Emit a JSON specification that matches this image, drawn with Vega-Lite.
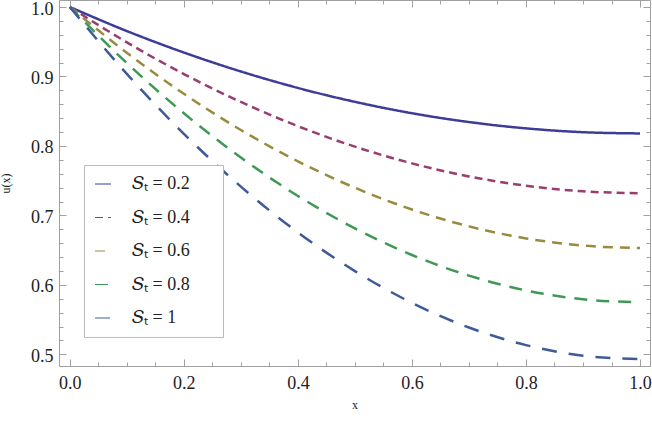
{
  "$schema": "https://vega.github.io/schema/vega-lite/v6.json",
  "width": 591,
  "height": 366,
  "autosize": "none",
  "padding": {"left": 59, "top": 0, "right": 2, "bottom": 56},
  "background": "white",
  "data": {"values": [
    {"x": 0, "u": 1, "s": "0.2"}, {"x": 0.1, "u": 0.9654, "s": "0.2"}, {"x": 0.2, "u": 0.9345, "s": "0.2"}, {"x": 0.3, "u": 0.9072, "s": "0.2"}, {"x": 0.4, "u": 0.8835, "s": "0.2"}, {"x": 0.5, "u": 0.8635, "s": "0.2"}, {"x": 0.6, "u": 0.8471, "s": "0.2"}, {"x": 0.7, "u": 0.8344, "s": "0.2"}, {"x": 0.8, "u": 0.8253, "s": "0.2"}, {"x": 0.9, "u": 0.8198, "s": "0.2"}, {"x": 1, "u": 0.818, "s": "0.2"},
    {"x": 0, "u": 1, "s": "0.4"}, {"x": 0.1, "u": 0.9491, "s": "0.4"}, {"x": 0.2, "u": 0.9035, "s": "0.4"}, {"x": 0.3, "u": 0.8633, "s": "0.4"}, {"x": 0.4, "u": 0.8285, "s": "0.4"}, {"x": 0.5, "u": 0.799, "s": "0.4"}, {"x": 0.6, "u": 0.7749, "s": "0.4"}, {"x": 0.7, "u": 0.7561, "s": "0.4"}, {"x": 0.8, "u": 0.7427, "s": "0.4"}, {"x": 0.9, "u": 0.7347, "s": "0.4"}, {"x": 1, "u": 0.732, "s": "0.4"},
    {"x": 0, "u": 1, "s": "0.6"}, {"x": 0.1, "u": 0.9341, "s": "0.6"}, {"x": 0.2, "u": 0.8751, "s": "0.6"}, {"x": 0.3, "u": 0.823, "s": "0.6"}, {"x": 0.4, "u": 0.7779, "s": "0.6"}, {"x": 0.5, "u": 0.7398, "s": "0.6"}, {"x": 0.6, "u": 0.7085, "s": "0.6"}, {"x": 0.7, "u": 0.6842, "s": "0.6"}, {"x": 0.8, "u": 0.6669, "s": "0.6"}, {"x": 0.9, "u": 0.6565, "s": "0.6"}, {"x": 1, "u": 0.653, "s": "0.6"},
    {"x": 0, "u": 1, "s": "0.8"}, {"x": 0.1, "u": 0.9193, "s": "0.8"}, {"x": 0.2, "u": 0.847, "s": "0.8"}, {"x": 0.3, "u": 0.7833, "s": "0.8"}, {"x": 0.4, "u": 0.728, "s": "0.8"}, {"x": 0.5, "u": 0.6813, "s": "0.8"}, {"x": 0.6, "u": 0.643, "s": "0.8"}, {"x": 0.7, "u": 0.6133, "s": "0.8"}, {"x": 0.8, "u": 0.592, "s": "0.8"}, {"x": 0.9, "u": 0.5793, "s": "0.8"}, {"x": 1, "u": 0.575, "s": "0.8"},
    {"x": 0, "u": 1, "s": "1"}, {"x": 0.1, "u": 0.9037, "s": "1"}, {"x": 0.2, "u": 0.8175, "s": "1"}, {"x": 0.3, "u": 0.7414, "s": "1"}, {"x": 0.4, "u": 0.6755, "s": "1"}, {"x": 0.5, "u": 0.6198, "s": "1"}, {"x": 0.6, "u": 0.5741, "s": "1"}, {"x": 0.7, "u": 0.5386, "s": "1"}, {"x": 0.8, "u": 0.5133, "s": "1"}, {"x": 0.9, "u": 0.4981, "s": "1"}, {"x": 1, "u": 0.493, "s": "1"}
  ]},
  "config": {
    "view": {"stroke": "#a0a0a0", "strokeWidth": 1},
    "axis": {
      "domain": false, "grid": false,
      "labelFont": "Liberation Serif", "labelFontSize": 18, "labelColor": "#222",
      "titleFont": "Liberation Serif", "titleFontSize": 12, "titleFontWeight": "normal", "titleColor": "#222",
      "tickColor": "#a0a0a0", "tickWidth": 1
    }
  },
  "layer": [
    {
      "mark": {"type": "line", "strokeWidth": 2.5, "interpolate": "monotone"},
      "encoding": {
        "x": {"field": "x", "type": "quantitative",
          "scale": {"domain": [-0.019, 1.0175], "nice": false, "zero": false},
          "axis": {"orient": "bottom", "values": [0, 0.2, 0.4, 0.6, 0.8, 1], "format": ".1f", "tickSize": -7, "labelPadding": 15, "title": "x", "titlePadding": 7}},
        "y": {"field": "u", "type": "quantitative",
          "scale": {"domain": [0.4832, 1.0101], "nice": false, "zero": false},
          "axis": {"orient": "left", "values": [0.5, 0.6, 0.7, 0.8, 0.9, 1], "format": ".1f", "tickSize": -7, "labelPadding": 13, "labelOffset": 2, "title": "u(x)", "titlePadding": 18}},
        "color": {"field": "s", "type": "nominal",
          "scale": {"domain": ["0.2", "0.4", "0.6", "0.8", "1"], "range": ["#3D3D99", "#993D71", "#998B3D", "#3D9954", "#3D5A99"]},
          "legend": {
            "orient": "none", "legendX": 25, "legendY": 165, "title": null,
            "padding": 10, "strokeColor": "#bbbbbb", "fillColor": "white",
            "symbolType": "stroke", "symbolSize": 256, "symbolStrokeWidth": 1,
            "labelOffset": 20, "labelFont": "Liberation Serif", "labelFontSize": 18, "labelColor": "#222",
            "rowPadding": 15.5,
            "labelExpr": "'\ud835\udc46\u209c = ' + datum.label + '\u00a0\u00a0\u00a0\u00a0\u00a0\u200b'",
            "encode": {"symbols": {"update": {"stroke": {"value": "#cccccc"}, "strokeDash": {"value": [2, 2]}}}}
          }},
        "strokeDash": {"field": "s", "type": "nominal",
          "scale": {"domain": ["0.2", "0.4", "0.6", "0.8", "1"], "range": [[1, 0], [8, 5], [10, 7], [13, 9], [15, 12]]},
          "legend": null}
      }
    },
    {
      "mark": {"type": "point", "opacity": 0},
      "encoding": {
        "x": {"field": "x", "type": "quantitative",
          "scale": {"domain": [-0.019, 1.0175], "nice": false, "zero": false},
          "axis": {"orient": "bottom", "values": [0.05, 0.1, 0.15, 0.25, 0.3, 0.35, 0.45, 0.5, 0.55, 0.65, 0.7, 0.75, 0.85, 0.9, 0.95], "labels": false, "tickSize": -4, "title": null}},
        "y": {"field": "u", "type": "quantitative",
          "scale": {"domain": [0.4832, 1.0101], "nice": false, "zero": false},
          "axis": {"orient": "left", "values": [0.52, 0.54, 0.56, 0.58, 0.62, 0.64, 0.66, 0.68, 0.72, 0.74, 0.76, 0.78, 0.82, 0.84, 0.86, 0.88, 0.92, 0.94, 0.96, 0.98], "labels": false, "tickSize": -4, "title": null}}
      }
    },
    {
      "mark": {"type": "point", "opacity": 0},
      "encoding": {
        "x": {"field": "x", "type": "quantitative",
          "scale": {"domain": [-0.019, 1.0175], "nice": false, "zero": false},
          "axis": {"orient": "top", "values": [0, 0.2, 0.4, 0.6, 0.8, 1], "labels": false, "tickSize": -7, "title": null}},
        "y": {"field": "u", "type": "quantitative",
          "scale": {"domain": [0.4832, 1.0101], "nice": false, "zero": false},
          "axis": {"orient": "right", "values": [0.5, 0.6, 0.7, 0.8, 0.9, 1], "labels": false, "tickSize": -7, "title": null}}
      }
    },
    {
      "mark": {"type": "point", "opacity": 0},
      "encoding": {
        "x": {"field": "x", "type": "quantitative",
          "scale": {"domain": [-0.019, 1.0175], "nice": false, "zero": false},
          "axis": {"orient": "top", "values": [0.05, 0.1, 0.15, 0.25, 0.3, 0.35, 0.45, 0.5, 0.55, 0.65, 0.7, 0.75, 0.85, 0.9, 0.95], "labels": false, "tickSize": -4, "title": null}},
        "y": {"field": "u", "type": "quantitative",
          "scale": {"domain": [0.4832, 1.0101], "nice": false, "zero": false},
          "axis": {"orient": "right", "values": [0.52, 0.54, 0.56, 0.58, 0.62, 0.64, 0.66, 0.68, 0.72, 0.74, 0.76, 0.78, 0.82, 0.84, 0.86, 0.88, 0.92, 0.94, 0.96, 0.98], "labels": false, "tickSize": -4, "title": null}}
      }
    }
  ],
  "resolve": {"axis": {"x": "independent", "y": "independent"}}
}
